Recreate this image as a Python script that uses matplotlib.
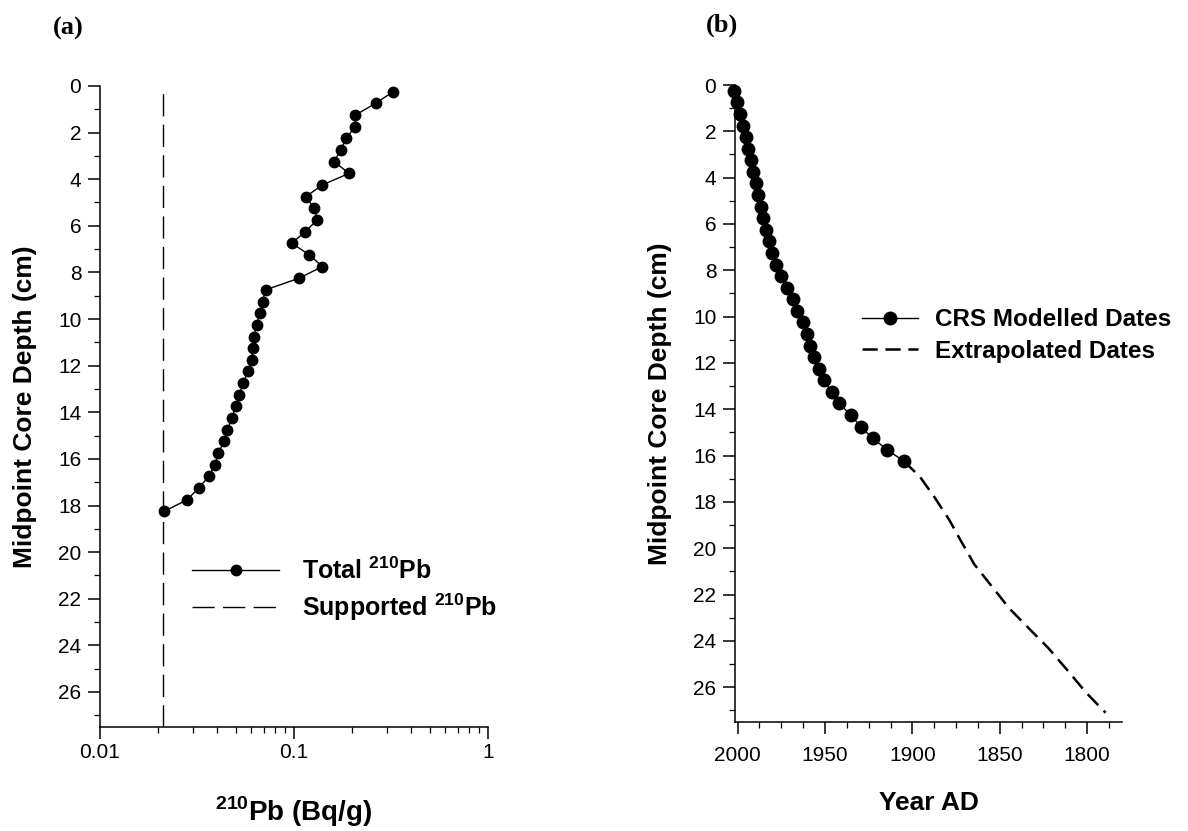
import matplotlib
matplotlib.use("Agg")
import matplotlib.pyplot as plt
from matplotlib.ticker import MultipleLocator, FixedLocator, LogLocator, NullFormatter

plt.rcParams['font.family'] = ['Liberation Sans', 'DejaVu Sans']
plt.rcParams['mathtext.fontset'] = 'custom'
plt.rcParams['mathtext.rm'] = 'Liberation Sans'
plt.rcParams['mathtext.bf'] = 'Liberation Sans:bold'
plt.rcParams['lines.scale_dashes'] = False

# (a) 210Pb activity profile
depth_a = [0.25, 0.75, 1.25, 1.75, 2.25, 2.75, 3.25, 3.75, 4.25, 4.75, 5.25, 5.75,
           6.25, 6.75, 7.25, 7.75, 8.25, 8.75, 9.25, 9.75, 10.25, 10.75, 11.25, 11.75,
           12.25, 12.75, 13.25, 13.75, 14.25, 14.75, 15.25, 15.75, 16.25, 16.75, 17.25,
           17.75, 18.25]
total_pb = [0.324, 0.263, 0.207, 0.206, 0.186, 0.174, 0.161, 0.192, 0.140, 0.115, 0.127, 0.132,
            0.114, 0.0975, 0.120, 0.140, 0.106, 0.0713, 0.0688, 0.0667, 0.0641, 0.0621, 0.0611, 0.0607,
            0.0576, 0.0547, 0.0522, 0.0501, 0.0478, 0.0454, 0.0435, 0.0408, 0.0391, 0.0364, 0.0322,
            0.0282, 0.0214]
supported_pb = 0.021

# (b) CRS chronology
depth_b = [0.25, 0.75, 1.25, 1.75, 2.25, 2.75, 3.25, 3.75, 4.25, 4.75, 5.25, 5.75,
           6.25, 6.75, 7.25, 7.75, 8.25, 8.75, 9.25, 9.75, 10.25, 10.75, 11.25, 11.75,
           12.25, 12.75, 13.25, 13.75, 14.25, 14.75, 15.25, 15.75, 16.25]
crs_year = [2002.3, 2000.3, 1998.5, 1996.9, 1995.4, 1993.9, 1992.4, 1991.2, 1989.7, 1988.2, 1986.7, 1985.2,
            1983.6, 1982.1, 1980.2, 1978.3, 1975.3, 1971.5, 1968.4, 1965.8, 1962.5, 1960.5, 1958.5, 1956.5,
            1953.6, 1950.6, 1946.2, 1941.8, 1935.3, 1929.5, 1922.8, 1914.3, 1904.8]
ext_depth = [16.25, 16.9, 17.8, 18.8, 19.7, 20.7, 21.6, 22.6, 23.4, 24.3, 25.3, 26.25, 27.1]
ext_year = [1904.8, 1895.8, 1887.3, 1878.7, 1872.1, 1864.5, 1855.0, 1844.5, 1834.1, 1822.3,
            1810.9, 1800.4, 1789.4]

depth_ticks = list(range(0, 27, 2))
tick_fs = 15
label_fs = 19

fig = plt.figure(figsize=(11.88, 8.31), dpi=100)
ax1 = fig.add_axes([0.0842, 0.1252, 0.3266, 0.7714])
ax2 = fig.add_axes([0.6187, 0.1312, 0.3258, 0.7665])


def style_depth_axis(ax, xpad):
    ax.set_ylim(27.5, 0)
    ax.yaxis.set_major_locator(FixedLocator(depth_ticks))
    ax.yaxis.set_minor_locator(MultipleLocator(1))
    ax.spines['top'].set_visible(False)
    ax.spines['right'].set_visible(False)
    for s in ['left', 'bottom']:
        ax.spines[s].set_linewidth(1.1)
    ax.tick_params(which='major', direction='out', length=8.5, width=1.1, labelsize=tick_fs, pad=5)
    ax.tick_params(which='minor', direction='out', length=4.5, width=0.9)
    ax.tick_params(axis='x', which='major', pad=xpad)
    ax.set_ylabel('Midpoint Core Depth (cm)', fontsize=label_fs, fontweight='bold')
    ax.yaxis.set_label_coords(-0.162, 0.5)


# panel (a)
ax1.plot(total_pb, depth_a, color='black', lw=1, marker='o', ms=7.5,
         label='Total $^{\\mathbf{210}}$Pb', clip_on=False, zorder=3)
ax1.axvline(supported_pb, color='black', lw=1, ls=(0, (16, 6)),
            label='Supported $^{\\mathbf{210}}$Pb')
ax1.set_xscale('log')
ax1.set_xlim(0.01, 1)
ax1.xaxis.set_major_locator(FixedLocator([0.01, 0.1, 1]))
ax1.set_xticklabels(['0.01', '0.1', '1'])
ax1.xaxis.set_minor_locator(LogLocator(base=10, subs=range(2, 10)))
ax1.xaxis.set_minor_formatter(NullFormatter())
style_depth_axis(ax1, 3)
ax1.set_xlabel('$^{\\mathbf{210}}$Pb (Bq/g)', fontsize=label_fs + 1, fontweight='bold')
ax1.xaxis.set_label_coords(0.5, -0.105)
leg1 = ax1.legend(loc='center left', bbox_to_anchor=(0.237, 0.213), frameon=False,
                  fontsize=18, handlelength=3.5, handletextpad=0.9, labelspacing=0.3,
                  borderpad=0, borderaxespad=0)
for t in leg1.get_texts():
    t.set_fontweight('bold')
fig.text(0.0572, 0.9663, '(a)', family='Liberation Serif', fontweight='bold', fontsize=19,
         ha='center', va='center')

# panel (b)
ax2.plot(crs_year, depth_b, color='black', lw=1, marker='o', ms=9,
         label='CRS Modelled Dates', clip_on=False, zorder=3)
ax2.plot(ext_year, ext_depth, color='black', lw=1.8, ls=(0, (11, 5.5)),
         label='Extrapolated Dates')
ax2.set_xlim(2001.5, 1780)
ax2.xaxis.set_major_locator(FixedLocator([2000, 1950, 1900, 1850, 1800]))
ax2.xaxis.set_minor_locator(MultipleLocator(12.5))
style_depth_axis(ax2, 9)
ax2.set_xlabel('Year AD', fontsize=label_fs, fontweight='bold')
ax2.xaxis.set_label_coords(0.5, -0.108)
leg2 = ax2.legend(loc='center left', bbox_to_anchor=(0.328, 0.607), frameon=False,
                  fontsize=17.5, handlelength=2.3, handletextpad=0.7, labelspacing=0.35,
                  borderpad=0, borderaxespad=0)
for t in leg2.get_texts():
    t.set_fontweight('bold')
fig.text(0.6077, 0.970, '(b)', family='Liberation Serif', fontweight='bold', fontsize=19,
         ha='center', va='center')

fig.savefig('out.png', dpi=100)
